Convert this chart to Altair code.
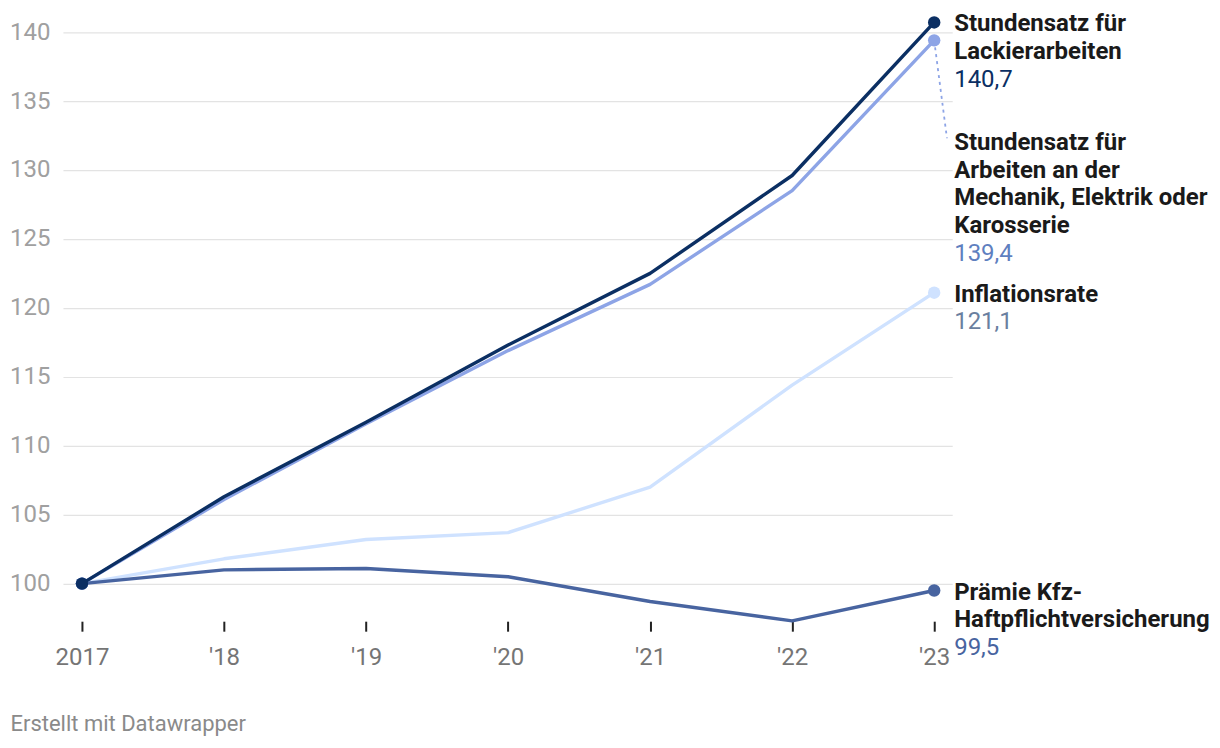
import altair as alt
import pandas as pd

years = [2017, 2018, 2019, 2020, 2021, 2022, 2023]
tick_labels = ["2017", "'18", "'19", "'20", "'21", "'22", "'23"]

lackier = [100, 106.3, 111.7, 117.3, 122.5, 129.6, 140.7]
mechanik = [100, 106.1, 111.6, 116.9, 121.7, 128.5, 139.4]
inflation = [100, 101.8, 103.2, 103.7, 107.0, 114.4, 121.1]
praemie = [100, 101.0, 101.1, 100.5, 98.7, 97.3, 99.5]

series_names = ["Inflationsrate", "Prämie", "Mechanik", "Lackier"]
series_values = [inflation, praemie, mechanik, lackier]
line_colors = ["#cfe2ff", "#4864a0", "#8da4e6", "#0b2f63"]
value_colors = ["#6a7fa0", "#4864a0", "#5f7fc0", "#0b2f63"]
label_lines = [
    ["Inflationsrate"],
    ["Prämie Kfz-", "Haftpflichtversicherung"],
    ["Stundensatz für", "Arbeiten an der", "Mechanik, Elektrik oder", "Karosserie"],
    ["Stundensatz für", "Lackierarbeiten"],
]
value_texts = ["121,1", "99,5", "139,4", "140,7"]
label_y = [121.1, 99.5, 132.1, 140.7]

leader_x = [2023, 2023.09]
leader_y = [139.4, 132.3]

FONT = "Roboto"
FS = 24
LH = 27.7
Y_DOMAIN = [98, 141]
PLOT_H = 593.4
PX_PER_UNIT = PLOT_H / (Y_DOMAIN[1] - Y_DOMAIN[0])

xscale = alt.Scale(domain=[2016.866, 2023.127], nice=False, zero=False)
yscale = alt.Scale(domain=Y_DOMAIN, nice=False, zero=False)

label_expr = "[" + ",".join('"%s"' % t for t in tick_labels) + "][datum.value - 2017]"

base_axes = alt.Chart(pd.DataFrame({"year": years, "v": lackier})).mark_line(opacity=0).encode(
    x=alt.X("year:Q", scale=xscale,
            axis=alt.Axis(values=years, labelExpr=label_expr, grid=False, domain=False,
                          ticks=True, tickSize=10, tickWidth=2, tickColor="#222222", offset=10,
                          labelFontSize=FS, labelColor="#757575", labelPadding=14, labelFont=FONT,
                          title="Erstellt mit Datawrapper", titleX=-53, titleY=109.5,
                          titleAlign="left", titleBaseline="alphabetic", titleFontSize=22,
                          titleFontWeight="normal", titleColor="#8a8a8a", titleFont=FONT)),
    y=alt.Y("v:Q", scale=yscale,
            axis=alt.Axis(values=list(range(100, 141, 5)), grid=True, gridColor="#e3e3e3",
                          gridWidth=1.2, domain=False, ticks=False, labelPadding=13,
                          labelFontSize=FS, labelColor="#a0a0a0", labelFont=FONT, title=None)),
)

layers = [base_axes]

leader = alt.Chart(pd.DataFrame({"x": [leader_x[0]], "x2": [leader_x[1]],
                                 "y": [leader_y[0]], "y2": [leader_y[1]]})).mark_rule(
    color="#8da4e6", strokeWidth=1.8, strokeDash=[3, 4]).encode(
    x=alt.X("x:Q", scale=xscale), x2="x2:Q", y=alt.Y("y:Q", scale=yscale), y2="y2:Q")
layers.append(leader)

for name, vals, lc in zip(series_names, series_values, line_colors):
    df = pd.DataFrame({"year": years, "v": vals})
    line = alt.Chart(df).mark_line(color=lc, strokeWidth=3.4, strokeJoin="round", strokeCap="round").encode(
        x=alt.X("year:Q", scale=xscale), y=alt.Y("v:Q", scale=yscale))
    ends = alt.Chart(df.iloc[[0, -1]]).mark_circle(color=lc, size=155, opacity=1).encode(
        x=alt.X("year:Q", scale=xscale), y=alt.Y("v:Q", scale=yscale))
    layers += [line, ends]

for lines, vt, ly, vc in zip(label_lines, value_texts, label_y, value_colors):
    df = pd.DataFrame({"year": [2023], "ly": [ly], "name": [lines],
                       "vy": [ly - len(lines) * LH / PX_PER_UNIT], "val": [vt]})
    name_t = alt.Chart(df).mark_text(align="left", baseline="alphabetic", dx=20, dy=9,
                                     fontSize=FS, fontWeight="bold", font=FONT, color="#1a1a1a",
                                     lineHeight=LH).encode(
        x=alt.X("year:Q", scale=xscale), y=alt.Y("ly:Q", scale=yscale), text="name")
    val_t = alt.Chart(df).mark_text(align="left", baseline="alphabetic", dx=20, dy=9,
                                    fontSize=FS, font=FONT, color=vc).encode(
        x=alt.X("year:Q", scale=xscale), y=alt.Y("vy:Q", scale=yscale), text="val:N")
    layers += [name_t, val_t]

chart = alt.layer(*layers).properties(
    width=890, height=PLOT_H,
    autosize=alt.AutoSizeParams(type="none"),
    padding={"left": 55, "top": 10, "right": 260, "bottom": 125},
).configure(font=FONT, view=alt.ViewConfig(stroke=None))

chart.save("out.html", embed_options={"renderer": "svg", "actions": False})
